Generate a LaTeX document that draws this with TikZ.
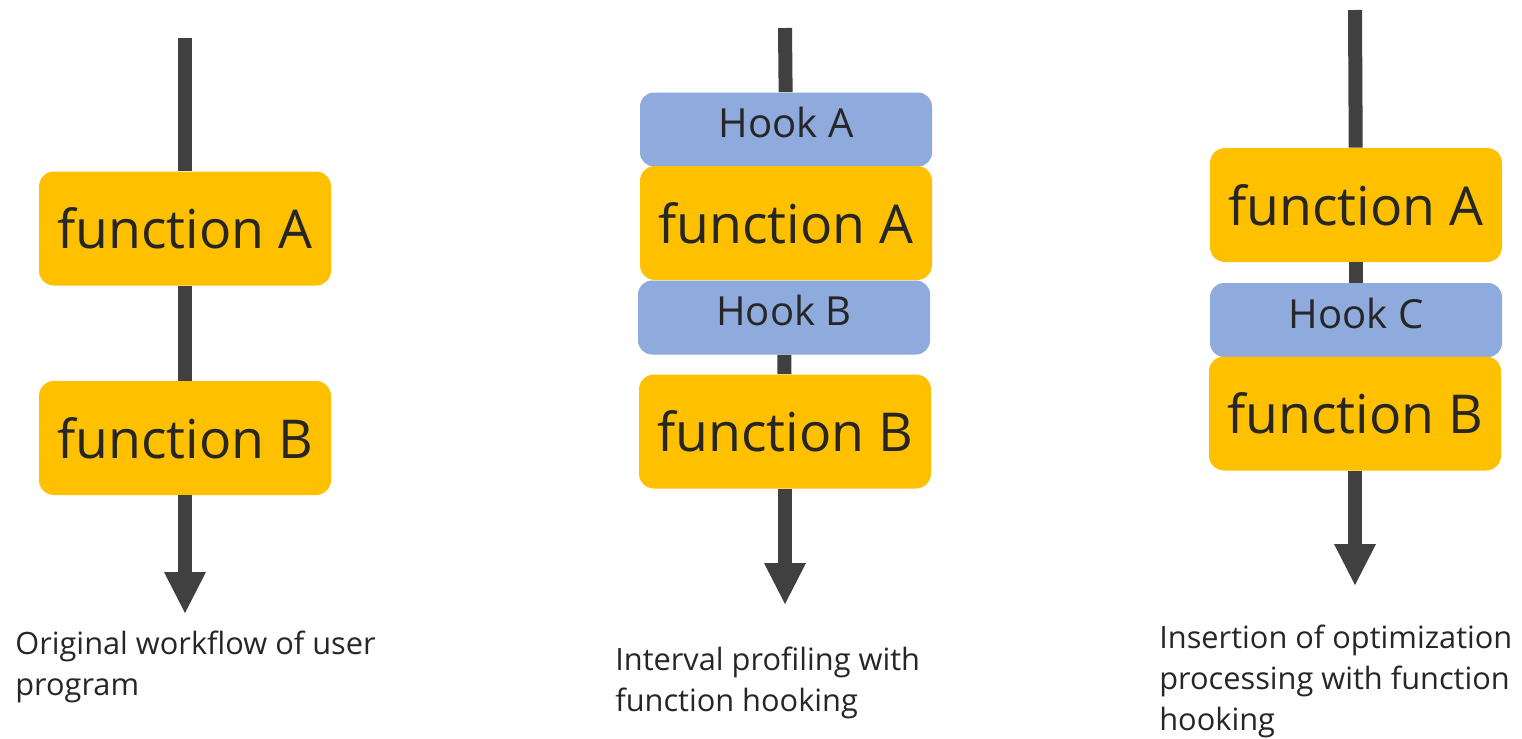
\documentclass[tikz,border=0pt]{standalone}
\usepackage{fontspec}
\setmainfont{Open Sans}
\usepackage{tikz}
\usetikzlibrary{arrows.meta, positioning}
\definecolor{funcorange}{HTML}{FFC000}
\definecolor{hookblue}{HTML}{8FAADC}
\definecolor{flowgray}{HTML}{404040}
\definecolor{inkgray}{HTML}{262626}

\begin{document}
\begin{tikzpicture}[
  func/.style={fill=funcorange, rounded corners=0.3cm, minimum width=5.84cm, minimum height=2.28cm, inner sep=0pt, text=inkgray, font=\fontsize{30.5}{36}\selectfont},
  hook/.style={fill=hookblue, rounded corners=0.28cm, minimum width=5.84cm, minimum height=1.48cm, inner sep=0pt, text depth=0.28cm, text=inkgray, font=\fontsize{22.8}{27}\selectfont},
  flow/.style={draw=flowgray, line width=0.28cm},
  arr/.style={flow, -{Triangle[length=0.82cm, width=0.84cm, line width=0pt]}},
  note/.style={anchor=north west, align=left, inner sep=0pt, text=inkgray, font=\fontsize{17.5}{23.3}\selectfont}
]
\useasboundingbox (0,0) rectangle (30.44,-14.78);

% original workflow
\coordinate (top1) at (3.70,-0.76);
\coordinate (end1) at (3.70,-12.26);
\node[func] (fa1) at (3.70,-4.57) {function A};
\node[func] (fb1) at (3.70,-8.76) {function B};
\draw[flow] (top1) -- (fa1);
\draw[flow] (fa1) -- (fb1);
\draw[arr] (fb1) -- (end1);
\node[note] (note1) at (0.30,-12.61) {Original workflow of user\\program};

% interval profiling
\coordinate (top2) at (15.70,-0.56);
\coordinate (end2) at (15.70,-12.08);
\node[hook] (ha2) at (15.72,-2.59) {Hook A};
\node[func] (fa2) at (15.72,-4.46) {function A};
\node[hook] (hb2) at (15.68,-6.35) {Hook B};
\node[func] (fb2) at (15.70,-8.63) {function B};
\draw[flow] (top2) -- (ha2);
\draw[flow] (hb2) -- (fb2);
\draw[arr] (fb2) -- (end2);
\node[note] (note2) at (12.30,-12.93) {Interval profiling with\\function hooking};

% optimization insertion
\coordinate (top3) at (27.10,-0.20);
\coordinate (end3) at (27.10,-11.70);
\node[func] (fa3) at (27.12,-4.10) {function A};
\node[hook] (hc3) at (27.12,-6.40) {Hook C};
\node[func] (fb3) at (27.10,-8.27) {function B};
\draw[flow] (top3) -- (fa3);
\draw[flow] (fa3) -- (hc3);
\draw[arr] (fb3) -- (end3);
\node[note] (note3) at (23.18,-12.50) {Insertion of optimization\\processing with function\\hooking};
\end{tikzpicture}
\end{document}
